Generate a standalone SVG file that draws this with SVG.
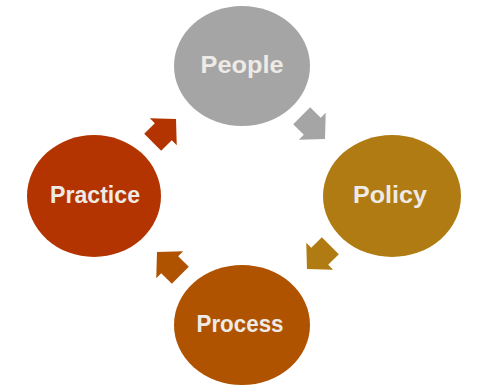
<svg xmlns="http://www.w3.org/2000/svg" width="477" height="385" viewBox="0 0 477 385">
<defs>
<style>
.lbl{font-family:"Liberation Sans",Arial,sans-serif;font-weight:bold;font-size:23px;fill:#eeeae6;text-anchor:middle}
</style>
<polygon id="arr" points="-16,-12 -1,-12 -1,-19 17,0 -1,19 -1,12 -16,12"/>
</defs>
<rect width="477" height="385" fill="#ffffff"/>
<g id="connectors">
<use href="#arr" fill="#a5a5a5" transform="translate(313,127) rotate(45)"/>
<use href="#arr" fill="#b07b12" transform="translate(319,257) rotate(135)"/>
<use href="#arr" fill="#b05300" transform="translate(169,264) rotate(225)"/>
<use href="#arr" fill="#b33400" transform="translate(164,131) rotate(-45)"/>
</g>
<g id="people">
<ellipse cx="242" cy="66" rx="68" ry="60" fill="#a5a5a5"/>
<text class="lbl" x="242" y="73" textLength="83" lengthAdjust="spacingAndGlyphs">People</text>
</g>
<g id="policy">
<ellipse cx="392" cy="196" rx="69" ry="61" fill="#b07b12"/>
<text class="lbl" x="390" y="203" textLength="74" lengthAdjust="spacingAndGlyphs">Policy</text>
</g>
<g id="practice">
<ellipse cx="94" cy="196" rx="67" ry="61" fill="#b33400"/>
<text class="lbl" x="95" y="203" textLength="90" lengthAdjust="spacingAndGlyphs">Practice</text>
</g>
<g id="process">
<ellipse cx="242" cy="325" rx="68" ry="60" fill="#b05300"/>
<text class="lbl" x="240" y="332" textLength="87" lengthAdjust="spacingAndGlyphs">Process</text>
</g>
</svg>
